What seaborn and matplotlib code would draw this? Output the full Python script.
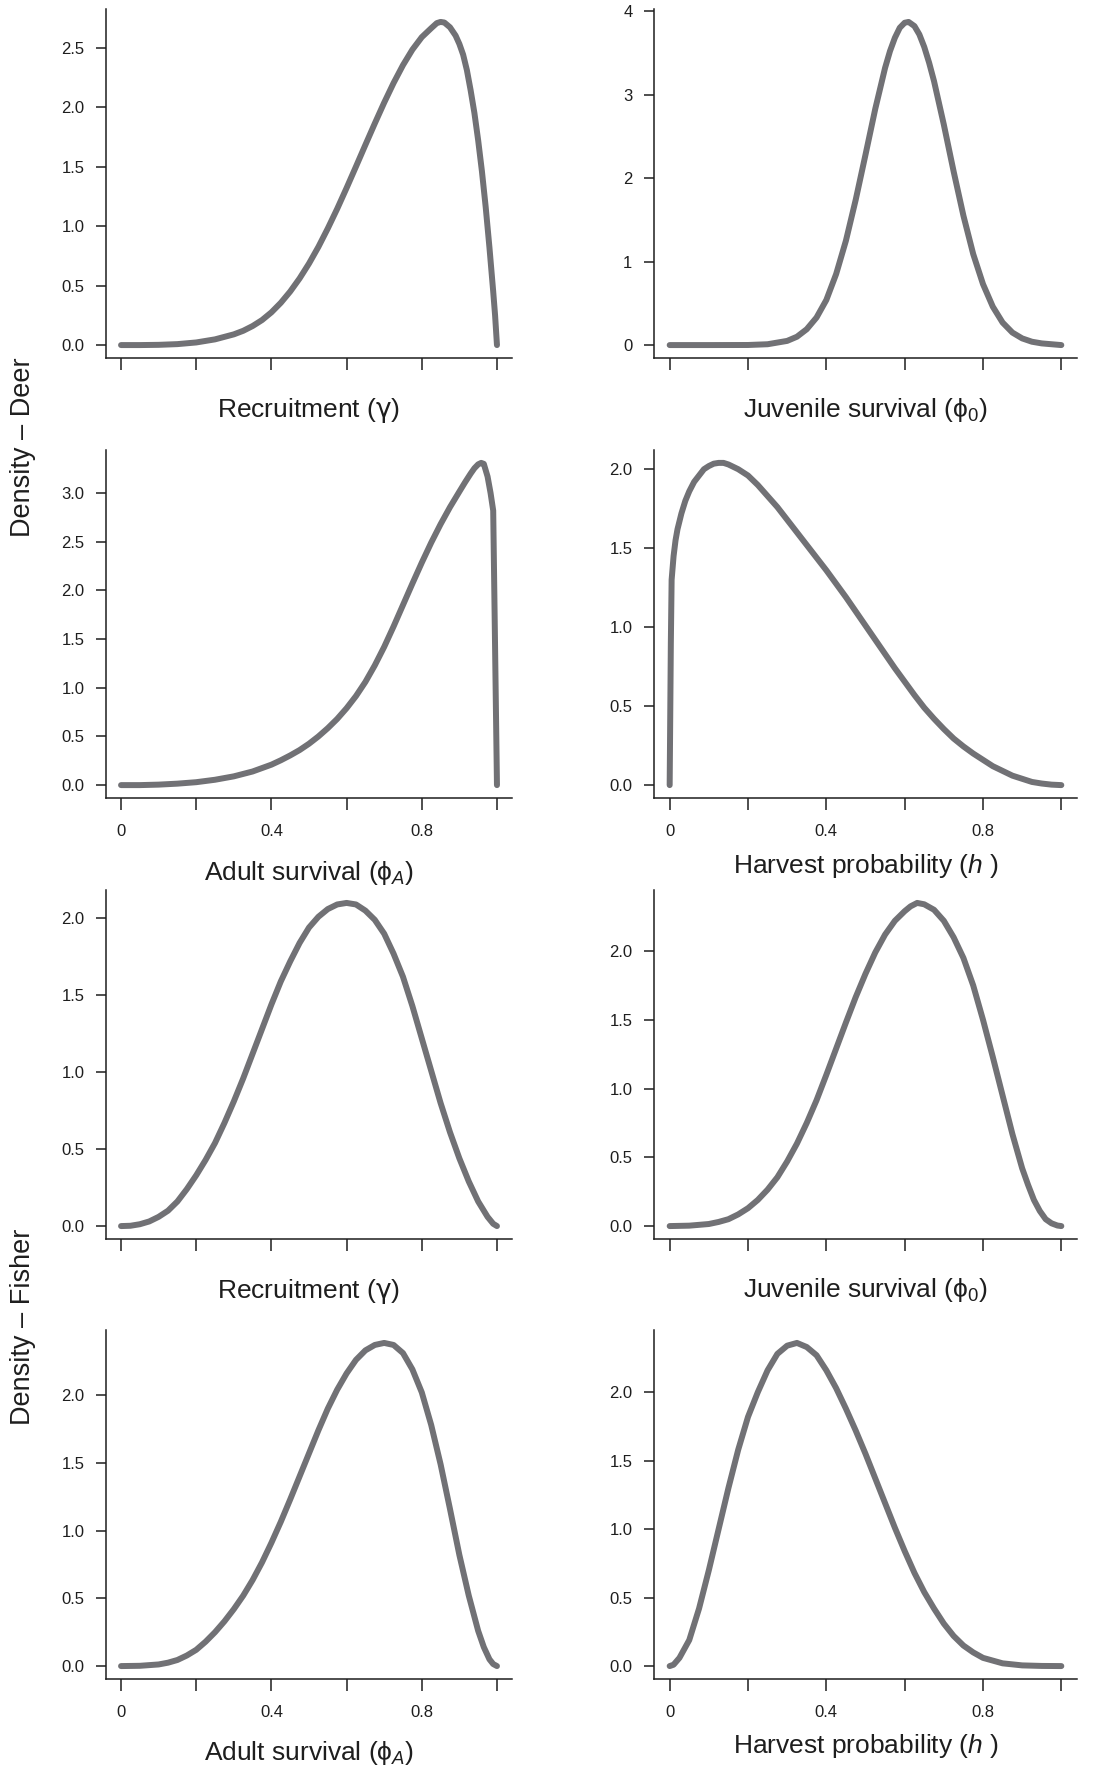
import matplotlib
matplotlib.use("Agg")
import matplotlib.pyplot as plt
import seaborn as sns

# ---------------- data ----------------
deer_recruit_x = [0, 0.05, 0.1, 0.15, 0.2, 0.25, 0.3, 0.325, 0.35, 0.375, 0.4, 0.425, 0.45, 0.475, 0.5,
                  0.525, 0.55, 0.575, 0.6, 0.625, 0.65, 0.675, 0.7, 0.725, 0.75, 0.775, 0.8, 0.825, 0.84,
                  0.85, 0.86, 0.875, 0.89, 0.9, 0.91, 0.92, 0.93, 0.94, 0.95, 0.96, 0.97, 0.98, 0.99,
                  0.995, 1.0]
deer_recruit_y = [0, 0.0, 0.002, 0.008, 0.022, 0.048, 0.09, 0.12, 0.16, 0.21, 0.275, 0.355, 0.45, 0.56, 0.685,
                  0.825, 0.98, 1.145, 1.32, 1.50, 1.682, 1.862, 2.037, 2.202, 2.352, 2.482, 2.587, 2.662, 2.705,
                  2.715, 2.71, 2.67, 2.60, 2.53, 2.44, 2.31, 2.14, 1.95, 1.72, 1.46, 1.16, 0.82, 0.45,
                  0.25, 0]

deer_juv_x = [0, 0.1, 0.2, 0.25, 0.3, 0.325, 0.35, 0.375, 0.4, 0.425, 0.45, 0.475, 0.5, 0.525, 0.55,
              0.5625, 0.575, 0.5875, 0.6, 0.61, 0.625, 0.6375, 0.65, 0.6625, 0.675, 0.7, 0.725, 0.75,
              0.775, 0.8, 0.825, 0.85, 0.875, 0.9, 0.925, 0.95, 1.0]
deer_juv_y = [0, 0, 0.001, 0.01, 0.05, 0.10, 0.19, 0.33, 0.54, 0.85, 1.25, 1.74, 2.28, 2.83, 3.32,
              3.52, 3.68, 3.80, 3.86, 3.87, 3.82, 3.72, 3.57, 3.38, 3.16, 2.64, 2.08, 1.55,
              1.09, 0.73, 0.46, 0.27, 0.15, 0.08, 0.04, 0.02, 0]

deer_adult_x = [0, 0.05, 0.1, 0.15, 0.2, 0.25, 0.3, 0.35, 0.4, 0.425, 0.45, 0.475, 0.5, 0.525, 0.55,
                0.575, 0.6, 0.625, 0.65, 0.675, 0.7, 0.725, 0.75, 0.775, 0.8, 0.825, 0.85, 0.875, 0.9,
                0.915, 0.93, 0.94, 0.95, 0.958, 0.965, 0.975, 0.983, 0.99, 1.0]
deer_adult_y = [0, 0.0, 0.005, 0.015, 0.03, 0.055, 0.09, 0.14, 0.21, 0.255, 0.305, 0.36, 0.425, 0.50, 0.585,
                0.68, 0.79, 0.915, 1.06, 1.23, 1.42, 1.63, 1.85, 2.07, 2.285, 2.49, 2.68, 2.855, 3.015,
                3.11, 3.20, 3.255, 3.295, 3.31, 3.30, 3.17, 3.00, 2.82, 0]

deer_harvest_x = [0, 0.003, 0.005, 0.01, 0.015, 0.02, 0.03, 0.04, 0.05, 0.0625, 0.075, 0.0875, 0.1, 0.1125,
                  0.125, 0.1375, 0.15, 0.175, 0.2, 0.225, 0.25, 0.275, 0.3, 0.325, 0.35, 0.375, 0.4,
                  0.425, 0.45, 0.475, 0.5, 0.525, 0.55, 0.575, 0.6, 0.625, 0.65, 0.675, 0.7, 0.725,
                  0.75, 0.775, 0.8, 0.825, 0.85, 0.875, 0.9, 0.925, 0.95, 0.975, 1.0]
deer_harvest_y = [0, 0.9, 1.30, 1.45, 1.55, 1.62, 1.72, 1.80, 1.86, 1.92, 1.96, 2.00, 2.02, 2.035,
                  2.04, 2.04, 2.03, 2.00, 1.96, 1.90, 1.83, 1.76, 1.68, 1.60, 1.52, 1.44, 1.36,
                  1.275, 1.19, 1.10, 1.01, 0.92, 0.83, 0.74, 0.655, 0.57, 0.49, 0.42, 0.355, 0.295,
                  0.245, 0.20, 0.16, 0.12, 0.09, 0.06, 0.04, 0.02, 0.01, 0.003, 0]

fisher_recruit_x = [0, 0.025, 0.05, 0.075, 0.1, 0.125, 0.15, 0.175, 0.2, 0.225, 0.25, 0.275, 0.3, 0.325,
                    0.35, 0.375, 0.4, 0.425, 0.45, 0.475, 0.5, 0.525, 0.55, 0.575, 0.6, 0.625, 0.65,
                    0.675, 0.7, 0.725, 0.75, 0.775, 0.8, 0.825, 0.85, 0.875, 0.9, 0.925, 0.95, 0.975,
                    0.99, 1.0]
fisher_recruit_y = [0, 0.002, 0.012, 0.03, 0.06, 0.10, 0.16, 0.24, 0.33, 0.43, 0.54, 0.67, 0.81, 0.96,
                    1.12, 1.28, 1.44, 1.59, 1.72, 1.84, 1.94, 2.01, 2.06, 2.09, 2.10, 2.09, 2.05,
                    1.99, 1.90, 1.77, 1.62, 1.43, 1.22, 1.01, 0.80, 0.61, 0.44, 0.29, 0.16, 0.06,
                    0.015, 0]

fisher_juv_x = [0, 0.05, 0.1, 0.125, 0.15, 0.175, 0.2, 0.225, 0.25, 0.275, 0.3, 0.325, 0.35, 0.375,
                0.4, 0.425, 0.45, 0.475, 0.5, 0.525, 0.55, 0.575, 0.6, 0.615, 0.632, 0.65, 0.675,
                0.7, 0.725, 0.75, 0.775, 0.8, 0.825, 0.85, 0.875, 0.9, 0.915, 0.93, 0.945, 0.96,
                0.975, 0.99, 1.0]
fisher_juv_y = [0, 0.003, 0.015, 0.03, 0.05, 0.085, 0.13, 0.19, 0.265, 0.355, 0.47, 0.60, 0.75, 0.915,
                1.10, 1.29, 1.48, 1.665, 1.835, 1.99, 2.12, 2.22, 2.29, 2.325, 2.35, 2.34, 2.30,
                2.22, 2.10, 1.95, 1.75, 1.50, 1.23, 0.95, 0.67, 0.42, 0.30, 0.19, 0.11, 0.05,
                0.02, 0.004, 0]

fisher_adult_x = [0, 0.05, 0.1, 0.125, 0.15, 0.175, 0.2, 0.225, 0.25, 0.275, 0.3, 0.325, 0.35, 0.375,
                  0.4, 0.425, 0.45, 0.475, 0.5, 0.525, 0.55, 0.575, 0.6, 0.625, 0.65, 0.675, 0.7,
                  0.725, 0.75, 0.775, 0.8, 0.825, 0.85, 0.875, 0.9, 0.925, 0.95, 0.965, 0.98, 0.99, 1.0]
fisher_adult_y = [0, 0.002, 0.012, 0.025, 0.045, 0.078, 0.12, 0.18, 0.25, 0.33, 0.42, 0.52, 0.635, 0.765,
                  0.91, 1.065, 1.23, 1.40, 1.57, 1.74, 1.90, 2.04, 2.16, 2.26, 2.33, 2.37, 2.385,
                  2.37, 2.31, 2.19, 2.02, 1.78, 1.49, 1.16, 0.82, 0.52, 0.26, 0.14, 0.05, 0.015, 0]

fisher_harvest_x = [0, 0.01, 0.025, 0.05, 0.075, 0.1, 0.125, 0.15, 0.175, 0.2, 0.225, 0.25, 0.275, 0.3,
                    0.325, 0.35, 0.375, 0.4, 0.425, 0.45, 0.475, 0.5, 0.525, 0.55, 0.575, 0.6, 0.625,
                    0.65, 0.675, 0.7, 0.725, 0.75, 0.775, 0.8, 0.85, 0.9, 0.95, 1.0]
fisher_harvest_y = [0, 0.01, 0.06, 0.19, 0.42, 0.70, 1.0, 1.3, 1.58, 1.82, 2.0, 2.16, 2.28, 2.34,
                    2.36, 2.33, 2.27, 2.16, 2.03, 1.88, 1.72, 1.55, 1.37, 1.19, 1.01, 0.84, 0.68,
                    0.54, 0.42, 0.31, 0.22, 0.15, 0.10, 0.06, 0.02, 0.005, 0.001, 0]

x_labels = ["Recruitment ($\\mathsf{\\gamma}$)", "Juvenile survival (\u03d5$_0$)",
            "Adult survival (\u03d5$_{\\mathit{A}}$)", "Harvest probability ($\\mathit{h}$ )"]
y_labels = ["Density \u2013 Deer", "Density \u2013 Fisher"]
x_ticks = [0, 0.2, 0.4, 0.6, 0.8, 1.0]
x_ticklabels = ["0", "", "0.4", "", "0.8", ""]

# ---------------- style ----------------
sns.set_style("ticks")
plt.rcParams["font.family"] = ["Liberation Sans", "DejaVu Sans"]
plt.rcParams["mathtext.fontset"] = "custom"
plt.rcParams["mathtext.rm"] = "Liberation Sans"
plt.rcParams["mathtext.it"] = "Liberation Sans:italic"
plt.rcParams["mathtext.sf"] = "DejaVu Sans"
plt.rcParams["mathtext.default"] = "regular"

LINE = "#717175"
INK = "#1e1e1e"
W, H = 1116, 1771
fig = plt.figure(figsize=(W / 100, H / 100), dpi=100)
fig.patch.set_facecolor("white")

cols = [(106, 512), (654, 1077)]
rows = [(9, 358), (450, 798), (890, 1239), (1330, 1679)]
label_base = [[417, 417], [880, 873], [1298, 1297], [1760, 1753]]

panels = [
    (deer_recruit_x, deer_recruit_y, 0, 0, 0.5, "{:.1f}"),
    (deer_juv_x, deer_juv_y, 0, 1, 1.0, "{:.0f}"),
    (deer_adult_x, deer_adult_y, 1, 0, 0.5, "{:.1f}"),
    (deer_harvest_x, deer_harvest_y, 1, 1, 0.5, "{:.1f}"),
    (fisher_recruit_x, fisher_recruit_y, 2, 0, 0.5, "{:.1f}"),
    (fisher_juv_x, fisher_juv_y, 2, 1, 0.5, "{:.1f}"),
    (fisher_adult_x, fisher_adult_y, 3, 0, 0.5, "{:.1f}"),
    (fisher_harvest_x, fisher_harvest_y, 3, 1, 0.5, "{:.1f}"),
]

for xs, ys, r, c, step, fmt in panels:
    left, right = cols[c]
    top, bottom = rows[r]
    ax = fig.add_axes([left / W, 1 - bottom / H, (right - left) / W, (bottom - top) / H])
    sns.lineplot(x=xs, y=ys, ax=ax, color=LINE, linewidth=4.3, sort=False, estimator=None)
    for ln in ax.lines:
        ln.set_solid_capstyle("round")
        ln.set_solid_joinstyle("round")
    ymax = max(ys)
    ax.set_xlim(-0.04, 1.04)
    ax.set_ylim(-0.04 * ymax, 1.04 * ymax)
    yt = []
    v = 0.0
    while v <= 1.04 * ymax + 1e-9:
        yt.append(round(v, 3))
        v += step
    ax.set_yticks(yt)
    ax.set_yticklabels([fmt.format(t) for t in yt])
    ax.set_xticks(x_ticks)
    if r in (1, 3):
        ax.set_xticklabels(x_ticklabels)
    else:
        ax.set_xticklabels([""] * len(x_ticks))
    for s in ("top", "right"):
        ax.spines[s].set_visible(False)
    for s in ("left", "bottom"):
        ax.spines[s].set_linewidth(1.1)
        ax.spines[s].set_color(INK)
    ax.tick_params(axis="x", direction="out", length=8.5, width=1.1, color=INK,
                   labelsize=12, labelcolor=INK, pad=10.5)
    ax.tick_params(axis="y", direction="out", length=7.5, width=1.1, color=INK,
                   labelsize=12, labelcolor=INK, pad=8)
    ax.set_facecolor("white")
    lbl = x_labels[(r % 2) * 2 + c]
    base = label_base[r][c]
    ax.set_xlabel(lbl, fontsize=19, color=INK, va="baseline")
    ax.xaxis.set_label_coords(0.5, (bottom - base) / (bottom - top))

fig.text(23 / W, 1 - 447 / H, y_labels[0], rotation=90, ha="center", va="center",
         fontsize=19.5, color=INK)
fig.text(23 / W, 1 - 1327 / H, y_labels[1], rotation=90, ha="center", va="center",
         fontsize=19.5, color=INK)

fig.savefig("out.png", dpi=100, facecolor="white")
